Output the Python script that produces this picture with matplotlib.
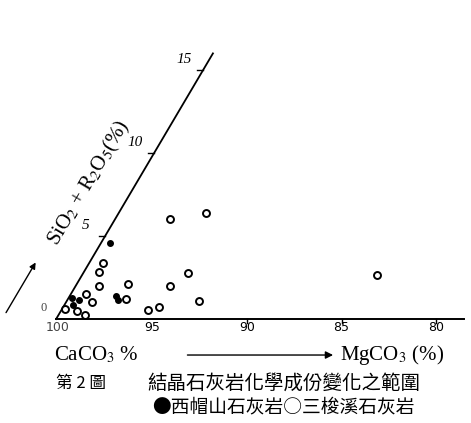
import matplotlib
matplotlib.use("Agg")
import matplotlib.pyplot as plt
import matplotlib.transforms as mtransforms

plt.rcParams['font.family'] = 'Liberation Serif'
plt.rcParams['mathtext.fontset'] = 'stix'
cjk = ['Noto Sans CJK TC', 'DejaVu Sans']

# CaCO3 % (x) and SiO2 + R2O3 % (y) for each sample
sanling_ca = [97.2, 95.5, 94.6, 97.4, 95.1, 97.0, 93.1, 95.5, 95.0, 84.5,
              99.3, 99.35, 98.85, 99.3, 98.7, 99.25, 98.7, 99.95]
sanling_si = [6.0, 6.4, 2.8, 2.1, 2.0, 1.2, 1.1, 0.55, 0.7, 2.65,
              2.85, 3.35, 2.0, 1.5, 1.0, 0.5, 0.25, 0.6]
ximao_ca = [99.6, 97.4, 97.65, 99.9, 99.5, 99.65]
ximao_si = [4.55, 1.15, 1.4, 1.25, 1.15, 0.85]

x_ticks = [100, 95, 90, 85, 80]
y_ticks = [5, 10, 15]

fig = plt.figure(figsize=(4.71, 4.23), dpi=100)
ax = fig.add_axes([0, 0, 1, 1])
ax.set_xlim(103.07, 78.15)
ax.set_ylim(-6.265, 19.217)
ax.axis('off')

# slanted y axis: shear so that y grows up and to the right
skew = mtransforms.Affine2D().from_values(1, 0, -0.5185, 1, 0, 0) + ax.transData

# base line (CaCO3 axis)
ax.plot([100.1, 78.5], [0, 0], color='black', lw=1.4)
for t in x_ticks[2:]:
    ax.plot([t, t], [0, -0.25], color='black', lw=1)
for t in x_ticks:
    ax.text(t, -0.5, str(t), ha='center', va='center', fontsize=9,
            family='DejaVu Sans', color='#444444' if t == 100 else 'black')

# slanted axis
ax.plot([100.1, 100.1], [0, 16.0], color='black', lw=1.3, transform=skew)
for t in y_ticks:
    ax.plot([100.4, 100.1], [t, t], color='black', lw=1, transform=skew)
    ax.text(101.45, t + 0.65, str(t), ha='center', va='center',
            fontsize=11, style='italic', transform=skew)
ax.text(101.1, 0.66, '0', ha='center', va='center', fontsize=9,
        color='#444444', transform=skew)

# arrow and label along slanted axis
ax.annotate('', xy=(102.95, 3.55), xytext=(102.95, 0.24),
            xycoords=skew, textcoords=skew,
            arrowprops=dict(arrowstyle='-|>', color='black', lw=1,
                            mutation_scale=9))
ax.text(102.6, 8.2, r'SiO$_2$ + R$_2$O$_5$(%)', rotation=59.4,
        rotation_mode='anchor', ha='center', va='center', fontsize=15,
        transform=skew)

# samples
ax.plot(sanling_ca, sanling_si, 'o', ms=5, mfc='white', mec='black',
        mew=1.4, transform=skew)
ax.plot(ximao_ca, ximao_si, 'o', ms=4, mfc='black', mec='black',
        transform=skew)

# bottom labels
ax.text(100.2, -2.17, r'CaCO$_3$ %', ha='left', va='center', fontsize=15)
ax.annotate('', xy=(85.3, -2.17), xytext=(93.3, -2.17),
            arrowprops=dict(arrowstyle='-|>', color='black', lw=1,
                            mutation_scale=11))
ax.text(85.1, -2.17, r'MgCO$_3$ (%)', ha='left', va='center', fontsize=15)

ax.text(100.1, -3.86, '第 2 圖', ha='left', va='center', fontsize=12,
        family=cjk)
ax.text(95.3, -3.86, '結晶石灰岩化學成份變化之範圍', ha='left', va='center',
        fontsize=14, family=cjk)
ax.text(95.0, -5.3, '●西帽山石灰岩○三梭溪石灰岩', ha='left', va='center',
        fontsize=13.5, family=cjk)

fig.savefig('out.png', dpi=100)
